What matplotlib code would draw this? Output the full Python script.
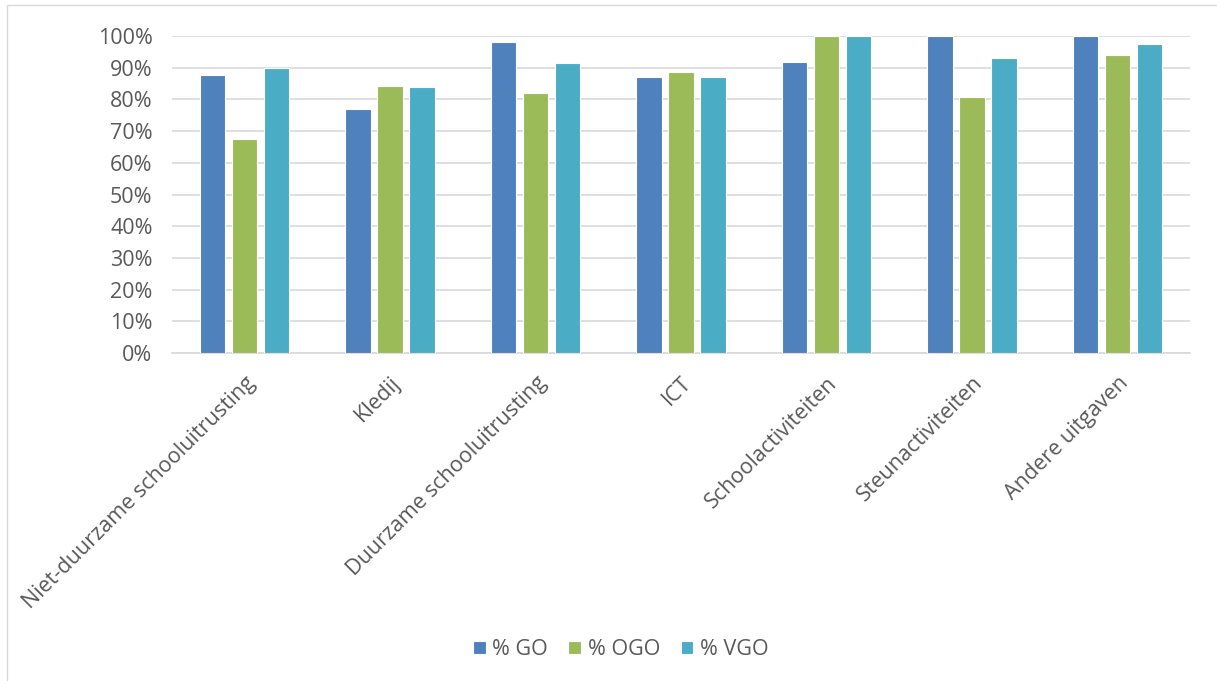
import matplotlib
matplotlib.use("Agg")
import matplotlib.pyplot as plt
import numpy as np
from matplotlib.patches import Rectangle
from matplotlib.ticker import FuncFormatter

categories = ["Niet-duurzame schooluitrusting", "Kledij", "Duurzame schooluitrusting",
              "ICT", "Schoolactiviteiten", "Steunactiviteiten", "Andere uitgaven"]
go = [87.6, 77.1, 98.1, 87.1, 91.9, 100.0, 100.0]
ogo = [67.5, 84.4, 82.0, 88.6, 100.0, 80.7, 93.9]
vgo = [89.9, 83.8, 91.4, 87.0, 100.0, 93.1, 97.5]
series_names = ["% GO", "% OGO", "% VGO"]
colors = ["#4F81BD", "#9BBB59", "#4BACC6"]

plt.rcParams['font.family'] = ['Open Sans', 'DejaVu Sans']
fig = plt.figure(figsize=(12.17, 6.81), dpi=100)
fig.patches.append(Rectangle((0.006, -0.01), 1.2, 1.003, transform=fig.transFigure,
                             fill=False, edgecolor="#D9D9D9", linewidth=1))
ax = fig.add_axes([0.1413, 0.4816, 0.978 - 0.1413, 0.947 - 0.4816])

x = np.arange(len(categories))
w = 0.175
off = 0.22
for i, (vals, name, c) in enumerate(zip([go, ogo, vgo], series_names, colors)):
    ax.bar(x + (i - 1) * off, vals, width=w, color=c, edgecolor="white", linewidth=0.8,
           label=name, zorder=3)

fs = 15.5
ax.set_xlim(-0.5, len(categories) - 0.5)
ax.set_ylim(0, 100)
ax.set_yticks(np.arange(0, 101, 10))
ax.yaxis.set_major_formatter(FuncFormatter(lambda v, p: f"{int(v)}%"))
ax.grid(axis="y", color="#D9D9D9", linewidth=1.2, zorder=0)
for s in ["top", "right", "left"]:
    ax.spines[s].set_visible(False)
ax.spines["bottom"].set_color("#D9D9D9")
ax.spines["bottom"].set_linewidth(1.2)
ax.tick_params(axis="both", length=0, labelsize=fs, colors="#595959")
ax.tick_params(axis="y", pad=14)
ax.set_xticks(x)
ax.set_xticklabels(categories, rotation=45, ha="right", rotation_mode="anchor")
ax.tick_params(axis="x", pad=14)

fig.legend(loc="center", bbox_to_anchor=(0.51, 0.046), ncol=3, frameon=False,
           fontsize=fs, labelcolor="#595959", handlelength=0.6, handleheight=0.6,
           handletextpad=0.3, columnspacing=0.95)

fig.savefig("out.png", dpi=100)
